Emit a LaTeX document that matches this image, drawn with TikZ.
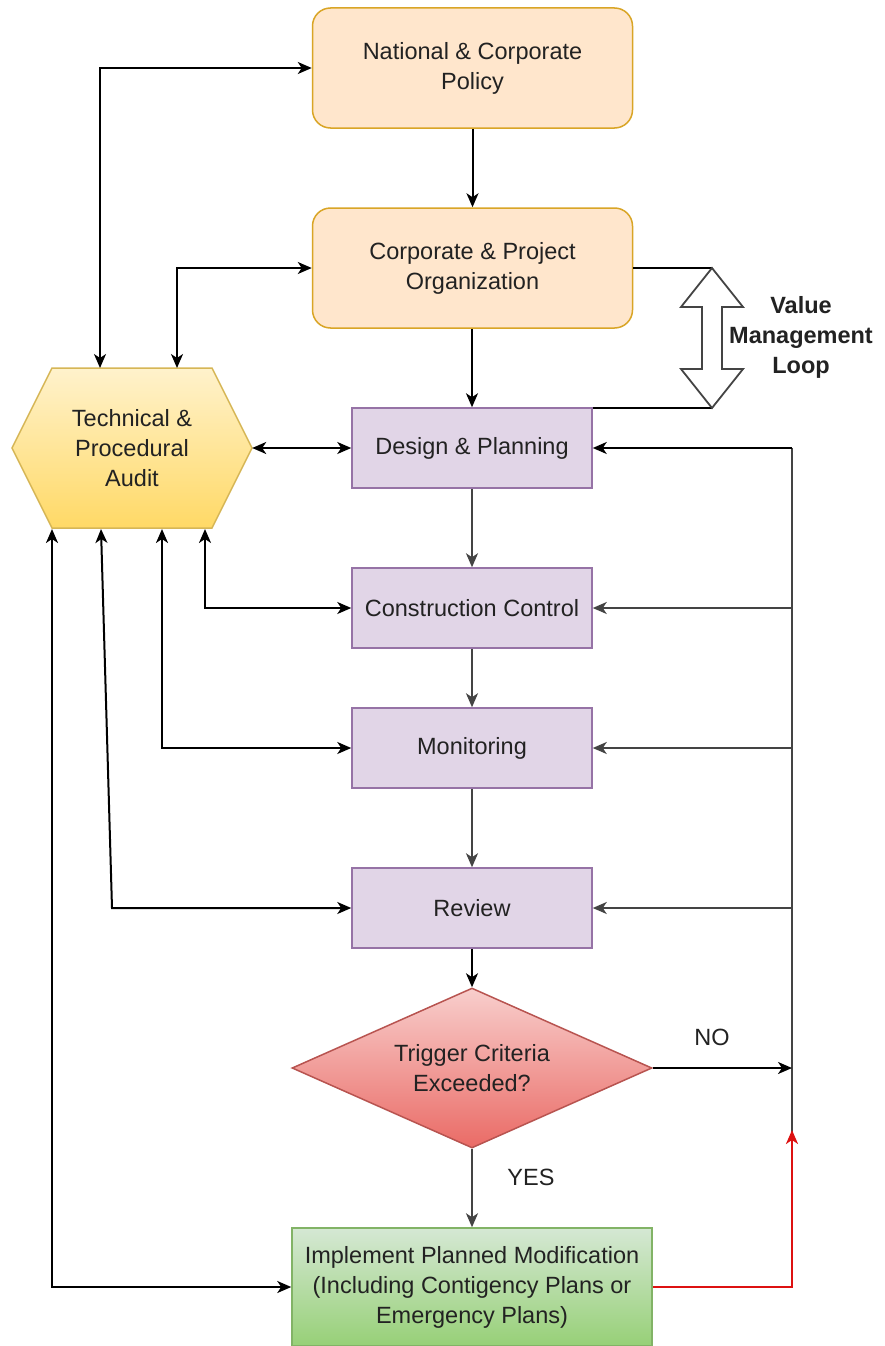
\documentclass[tikz,border=0pt]{standalone}
\usepackage{fontspec}
\setmainfont{Liberation Sans}
\usetikzlibrary{arrows.meta,shapes.geometric,calc}
\definecolor{pkfill}{HTML}{FFE6CC}
\definecolor{pkline}{HTML}{D9A526}
\definecolor{pufill}{HTML}{E1D5E7}
\definecolor{puline}{HTML}{9673A6}
\definecolor{hxtop}{HTML}{FFF2CC}
\definecolor{hxbot}{HTML}{FFD966}
\definecolor{hxline}{HTML}{D6B656}
\definecolor{rdtop}{HTML}{F8CECC}
\definecolor{rdbot}{HTML}{EA6B66}
\definecolor{rdline}{HTML}{B85450}
\definecolor{gntop}{HTML}{D5E8D4}
\definecolor{gnbot}{HTML}{97D077}
\definecolor{gnline}{HTML}{82B366}
\definecolor{txt}{HTML}{222222}
\definecolor{gry}{HTML}{444444}
\definecolor{redl}{HTML}{DD1111}
\tikzset{
  lbl/.style={font=\fontsize{23.5}{30}\selectfont, text=txt, align=center, inner sep=0},
  peachbox/.style={lbl, draw=pkline, fill=pkfill, line width=1.5, rounded corners=18,
    minimum width=320, minimum height=120},
  purpbox/.style={lbl, draw=puline, fill=pufill, line width=1.5,
    minimum width=240, minimum height=80},
  greenbox/.style={lbl, draw=gnline, top color=gntop, bottom color=gnbot, line width=1.5,
    minimum width=360, minimum height=118},
  trigdia/.style={lbl, diamond, aspect=2.25, draw=rdline, top color=rdtop, bottom color=rdbot,
    line width=1.5, minimum width=360, minimum height=160},
  arr/.style={draw=black, line width=2, -{Stealth[length=14pt,width=12pt,inset=4pt]}},
  darr/.style={draw=black, line width=2, {Stealth[length=14pt,width=12pt,inset=4pt]}-{Stealth[length=14pt,width=12pt,inset=4pt]}},
  garr/.style={draw=gry, line width=2, -{Stealth[length=14pt,width=12pt,inset=4pt]}},
  gline/.style={draw=gry, line width=2},
  redarr/.style={draw=redl, line width=2, -{Stealth[length=14pt,width=12pt,inset=4pt]}},
}
\begin{document}
\begin{tikzpicture}[x=1pt,y=-1pt]
\useasboundingbox[fill=white] (0,0) rectangle (884,1346);

% hexagon background
\coordinate (hc) at (132,448);
\draw[draw=hxline, top color=hxtop, bottom color=hxbot, line width=1.5]
  ($(hc)+(-120,0)$) -- ($(hc)+(-80,-80)$) -- ($(hc)+(80,-80)$) -- ($(hc)+(120,0)$)
  -- ($(hc)+(80,80)$) -- ($(hc)+(-80,80)$) -- cycle;
\node[lbl, minimum width=240, minimum height=160] (audit) at (hc) {Technical \&\\Procedural\\Audit};

% main column
\node[peachbox] (policy) at (472.5,68) {National \& Corporate\\Policy};
\node[peachbox] (corp) at (472.5,268) {Corporate \& Project\\Organization};
\node[purpbox] (design) at (472,448) {Design \& Planning};
\node[purpbox] (constr) at (472,608) {Construction Control};
\node[purpbox] (monit) at (472,748) {Monitoring};
\node[purpbox] (review) at (472,908) {Review};
\node[trigdia] (trig) at (472,1068) {Trigger Criteria\\Exceeded?};
\node[greenbox] (impl) at (472,1287) {Implement Planned Modification\\(Including Contigency Plans or\\Emergency Plans)};

% vertical flow
\draw[arr] (policy.south) -- (corp.north);
\draw[arr] (corp.south -| design.north) -- (design.north);
\draw[garr] (design.south) -- (constr.north);
\draw[garr] (constr.south) -- (monit.north);
\draw[garr] (monit.south) -- (review.north);
\draw[arr] (review.south) -- (trig.north);
\draw[garr] (trig.south) -- (impl.north);
\node[lbl] (yes) at (531,1177) {YES};

% audit links
\coordinate (a1) at (100,368);
\coordinate (a2) at (177,368);
\coordinate (b1) at (52,529);
\coordinate (b2) at (101,529);
\coordinate (b2k) at (112,908);
\coordinate (b3) at (162,529);
\coordinate (b4) at (205,529);
\draw[darr] (a1) |- (policy.west);
\draw[darr] (a2) |- (corp.west);
\draw[darr] (audit.east) -- (design.west);
\draw[darr] (b4) |- (constr.west);
\draw[darr] (b3) |- (monit.west);
\draw[darr] (b2) -- (b2k) -- (review.west);
\draw[darr] (b1) |- (impl.west);

% right feedback line
\coordinate (r0) at (792,448);
\coordinate (rbot) at (792,1132);
\coordinate (rtip) at (792,1130);
\draw[gline] (rbot) -- (r0);
\draw[arr] (r0) -- (design.east);
\draw[garr] (constr.east -| r0) -- (constr.east);
\draw[garr] (monit.east -| r0) -- (monit.east);
\draw[garr] (review.east -| r0) -- (review.east);
\draw[arr] (trig.east) -- (trig.east -| r0);
\node[lbl] (no) at (712,1037) {NO};
\draw[redarr] (impl.east) -| (rtip);

% value management loop
\coordinate (vt) at (712,268);
\coordinate (vb) at (712,408);
\draw[draw=black, line width=1.5] (corp.east) -- (vt);
\draw[draw=black, line width=1.5] (vb -| design.east) -- (vb);
\draw[draw=gry, fill=white, line width=1.8, line join=miter]
  (vt) -- (743,307) -- (722,307) -- (722,369) -- (743,369) -- (vb)
  -- (681,369) -- (702,369) -- (702,307) -- (681,307) -- cycle;
\node[lbl, font=\fontsize{23.5}{30}\selectfont\bfseries] (vml) at (801,337) {Value\\Management\\Loop};
\end{tikzpicture}
\end{document}
